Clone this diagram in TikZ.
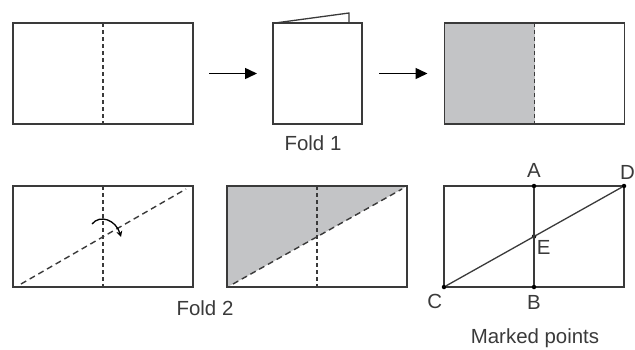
\documentclass[tikz,border=0pt]{standalone}
\usepackage{fontspec}
\setmainfont{Liberation Sans}
\usetikzlibrary{arrows.meta,calc,positioning}
\definecolor{inkgray}{HTML}{3A3A3A}
\definecolor{paperfill}{HTML}{C3C4C6}
\begin{document}
\begin{tikzpicture}[
    x=1bp, y=-1bp,
    sheet/.style n args={2}{
        draw=inkgray,
        line width=1.4bp,
        minimum width=#1,
        minimum height=#2,
        inner sep=0pt,
        outer sep=0pt
    },
    foldline/.style={draw=inkgray, line width=1.3bp, dash pattern=on 4bp off 3bp},
    creaseline/.style={draw=inkgray, line width=1.4bp, dash pattern=on 6bp off 4bp},
    edgeline/.style={draw=inkgray, line width=1.3bp},
    steparrow/.style={draw=black, line width=1.5bp, -{Triangle[length=12bp,width=11bp]}},
    ptdot/.style={circle, fill=black, inner sep=0pt, minimum size=4.5bp},
    caption/.style={font=\fontsize{20.5}{22}\selectfont, text=inkgray, inner sep=0pt},
    every node/.style={font=\fontsize{20.5}{22}\selectfont}
]
\useasboundingbox (0,0) rectangle (635,349);

% ---- sheet sizes (pure numbers, unit bp) ----
\def\wS{180}   % sheet width
\def\hS{101}   % sheet height
\def\wF{89}    % folded card width

% ---- Row 1: first fold ----
\node[sheet={\wS bp}{\hS bp}] (S1) at (103, 73.5) {};
\draw[foldline] (S1.north) -- (S1.south);

\node[sheet={\wF bp}{\hS bp}] (F1) at (317.5, 73.5) {};
\coordinate (flapA) at ($(F1.north west)+(2,0)$);
\coordinate (flapB) at ($(F1.north east)+(-13,-10)$);
\coordinate (flapC) at ($(F1.north east)+(-13,0)$);
\draw[edgeline] (flapA) -- (flapB) -- (flapC);
\node[caption] (cap1) at (313, 143) {Fold 1};

\node[sheet={\wS bp}{\hS bp}] (S3) at (534.5, 73.5) {};
\fill[paperfill] (S3.north west) rectangle (S3.south);
\draw[edgeline] (S3.north west) rectangle (S3.south east);
\draw[foldline] (S3.north) -- (S3.south);

\draw[steparrow] ([xshift=16bp]S1.east) -- ([xshift=-16bp]F1.west);
\draw[steparrow] ([xshift=17bp]F1.east) -- ([xshift=-17bp]S3.west);

% ---- Row 2: second fold ----
\node[sheet={\wS bp}{\hS bp}] (S4) at (103, 236.5) {};
\draw[foldline] (S4.north) -- (S4.south);
\coordinate (d4a) at ($(S4.south west)+(8,-3)$);
\coordinate (d4b) at ($(S4.north east)+(-7,3)$);
\draw[creaseline] (d4a) -- (d4b);
\coordinate (turnA) at (92, 224);
\coordinate (turnB) at (121, 237);
\draw[draw=black, line width=1.3bp, -{Stealth[length=6bp,width=6bp]}]
    (turnA) .. controls (100, 214) and (116, 220) .. (turnB);

\node[sheet={\wS bp}{\hS bp}] (S5) at (317, 236.5) {};
\coordinate (d5a) at ($(S5.south west)+(6,-3)$);
\coordinate (d5b) at ($(S5.north east)+(-5,3)$);
\fill[paperfill] (S5.north west) -- (S5.north east) -- (d5b) -- (d5a) -- (S5.south west) -- cycle;
\draw[edgeline] (S5.north west) rectangle (S5.south east);
\draw[foldline] (S5.north) -- (S5.south);
\draw[creaseline] (d5a) -- (d5b);
\node[caption] (cap2) at (205, 308) {Fold 2};

% ---- marked points ----
\node[sheet={\wS bp}{\hS bp}] (S6) at (534, 236.5) {};
\node[ptdot] (A) at (S6.north) {};
\node[ptdot] (B) at (S6.south) {};
\node[ptdot] (C) at (S6.south west) {};
\node[ptdot] (D) at (S6.north east) {};
\node[ptdot] (E) at (S6.center) {};
\draw[edgeline] (A) -- (B);
\draw[edgeline] (C) -- (D);
\node[caption, above=6bp of A] (labA) {A};
\node[caption, anchor=south east] (labD) at (635, 180) {D};
\node[caption, below left=5bp and 0bp of C] (labC) {C};
\node[caption, below=6bp of B] (labB) {B};
\node[caption, below right=2bp and 1bp of E] (labE) {E};
\node[caption] (cap3) at (535, 338) {Marked points};

\end{tikzpicture}
\end{document}
